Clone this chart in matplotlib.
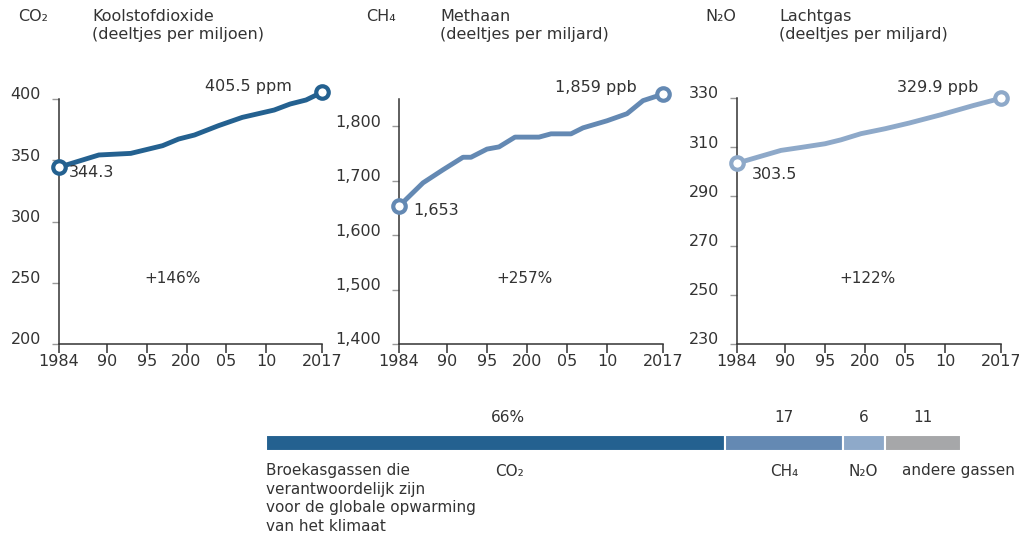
import matplotlib
matplotlib.use("Agg")
import matplotlib.pyplot as plt
from matplotlib.transforms import ScaledTranslation, blended_transform_factory

# ------------------------------------------------------------
# Data
# ------------------------------------------------------------
co2_years = [1984, 1989, 1993, 1997, 1999, 2001, 2004, 2007, 2011, 2013, 2015, 2017]
co2_values = [344.3, 354.3, 355.6, 361.9, 367.3, 370.6, 378.2, 385.0, 391.0, 395.9, 399.2, 405.5]

ch4_years = [1984, 1987, 1989.5, 1992, 1993, 1995, 1996.5, 1998.5, 2001.5, 2003, 2005.5, 2007, 2010, 2012.5, 2014.5, 2017]
ch4_values = [1653, 1696, 1720, 1743, 1743, 1758, 1762, 1780, 1780, 1786, 1786, 1797, 1810, 1823, 1847, 1859]

n2o_years = [1984, 1989.5, 1992, 1995, 1997, 1999.5, 2002.5, 2005.5, 2009.5, 2013.5, 2017]
n2o_values = [303.5, 308.7, 309.9, 311.4, 313.0, 315.5, 317.5, 319.8, 323.2, 326.9, 329.9]

xtick_years = [1984, 1990, 1995, 2000, 2005, 2010, 2017]
xtick_labels = ["1984", "90", "95", "200", "05", "10", "2017"]

co2_yticks = [200, 250, 300, 350, 400]
ch4_yticks = [1400, 1500, 1600, 1700, 1800]
ch4_ylabels = ["1,400", "1,500", "1,600", "1,700", "1,800"]
n2o_yticks = [230, 250, 270, 290, 310, 330]

gases = ["CO₂", "CH₄", "N₂O", "andere gassen"]
shares = [66, 17, 6, 11]
share_labels = ["66%", "17", "6", "11"]

c_co2 = "#246190"
c_ch4 = "#6489b3"
c_n2o = "#8ea9c9"
c_other = "#a6a7a9"
txt = "#333333"

plt.rcParams["font.family"] = ["DejaVu Sans"]
plt.rcParams["text.color"] = txt

fig = plt.figure(figsize=(10.2, 5.39), dpi=100)
W, H = 1020, 539


def box(l, t, r, b):
    return [l / W, 1 - b / H, (r - l) / W, (b - t) / H]


def panel(rect, years, values, color, ylim, yticks, ylabels,
          start_lbl, end_lbl, s_off, e_off, pct, pct_x):
    ax = fig.add_axes(rect)
    ax.plot(years, values, color=color, lw=3.5, solid_joinstyle="round",
            solid_capstyle="round", clip_on=False, zorder=3)
    ax.plot([years[0], years[-1]], [values[0], values[-1]], "o", ms=9,
            mfc="white", mec=color, mew=3, clip_on=False, zorder=4)
    ax.set_xlim(1984, 2017)
    ax.set_ylim(*ylim)
    ax.set_xticks(xtick_years)
    ax.set_xticklabels(xtick_labels)
    ax.set_yticks(yticks)
    ax.set_yticklabels(ylabels)
    for s in ["top", "right"]:
        ax.spines[s].set_visible(False)
    for s in ["left", "bottom"]:
        ax.spines[s].set_color("#333333")
        ax.spines[s].set_linewidth(1.1)
    ax.tick_params(axis="x", length=6.5, width=1.1, color="#333333",
                   labelsize=11.5, labelcolor=txt, pad=1)
    ax.tick_params(axis="y", length=5, width=1, color="#999999",
                   labelsize=11.5, labelcolor=txt, pad=8)
    for lab in ax.get_yticklabels():
        lab.set_transform(lab.get_transform() + ScaledTranslation(0, 4 / 72, fig.dpi_scale_trans))
    ax.patch.set_alpha(0)
    ax.annotate(start_lbl, (years[0], values[0]), xytext=s_off, textcoords="offset points",
                ha="left", va="center", fontsize=11.5, annotation_clip=False)
    ax.annotate(end_lbl, (years[-1], values[-1]), xytext=e_off, textcoords="offset points",
                ha="right", va="center", fontsize=11.5, annotation_clip=False)
    ax.text(pct_x, 0.268, pct, transform=ax.transAxes, ha="center", va="center", fontsize=11)
    return ax


panel(box(59, 99, 322, 344), co2_years, co2_values, c_co2, (200, 400),
      co2_yticks, [str(v) for v in co2_yticks], "344.3", "405.5 ppm",
      (7, -4), (-22, 4), "+146%", 0.43)
panel(box(399, 99, 663, 344), ch4_years, ch4_values, c_ch4, (1400, 1850),
      ch4_yticks, ch4_ylabels, "1,653", "1,859 ppb",
      (10, -3), (-19, 5), "+257%", 0.475)
panel(box(737, 98, 1001, 344), n2o_years, n2o_values, c_n2o, (230, 330),
      n2o_yticks, [str(v) for v in n2o_yticks], "303.5", "329.9 ppb",
      (11, -8), (-16, 8), "+122%", 0.494)

# titels
heads = [(18, "CO₂", 92, "Koolstofdioxide\n(deeltjes per miljoen)"),
         (366, "CH₄", 440, "Methaan\n(deeltjes per miljard)"),
         (705, "N₂O", 779, "Lachtgas\n(deeltjes per miljard)")]
for x1, sym, x2, name in heads:
    fig.text(x1 / W, 1 - 9 / H, sym, ha="left", va="top", fontsize=11.5)
    fig.text(x2 / W, 1 - 9 / H, name, ha="left", va="top", fontsize=11.5, linespacing=1.25)

# ------------------------------------------------------------
# Gestapelde balk
# ------------------------------------------------------------
axb = fig.add_axes(box(266, 435, 961, 451))
colors = [c_co2, c_ch4, c_n2o, c_other]
left = 0
lefts = []
for val, col in zip(shares, colors):
    axb.barh(0, val, left=left, height=1, color=col, edgecolor="white", linewidth=1.5)
    lefts.append(left)
    left += val
axb.set_xlim(0, 100)
axb.set_ylim(-0.5, 0.5)
axb.axis("off")

tr = blended_transform_factory(axb.transData, fig.transFigure)
for lft, val, lab, gas in zip(lefts, shares, share_labels, gases):
    mid = lft + val / 2
    if gas == "CO₂":
        fig.text(mid + 1.8, 1 - 418 / H, lab, transform=tr, ha="center", va="center", fontsize=11)
        fig.text(mid, 1 - 471 / H, gas, transform=tr, ha="left", va="center", fontsize=11)
    elif gas == "andere gassen":
        fig.text(mid, 1 - 418 / H, lab, transform=tr, ha="center", va="center", fontsize=11)
        fig.text(lft + 2.5, 1 - 471 / H, gas, transform=tr, ha="left", va="center", fontsize=11)
    else:
        fig.text(mid, 1 - 418 / H, lab, transform=tr, ha="center", va="center", fontsize=11)
        fig.text(mid, 1 - 471 / H, gas, transform=tr, ha="center", va="center", fontsize=11)

fig.text(0, 1 - 463 / H,
         "Broekasgassen die\nverantwoordelijk zijn\nvoor de globale opwarming\nvan het klimaat",
         transform=tr, ha="left", va="top", fontsize=11, linespacing=1.3)

fig.savefig("out.png", dpi=100)
